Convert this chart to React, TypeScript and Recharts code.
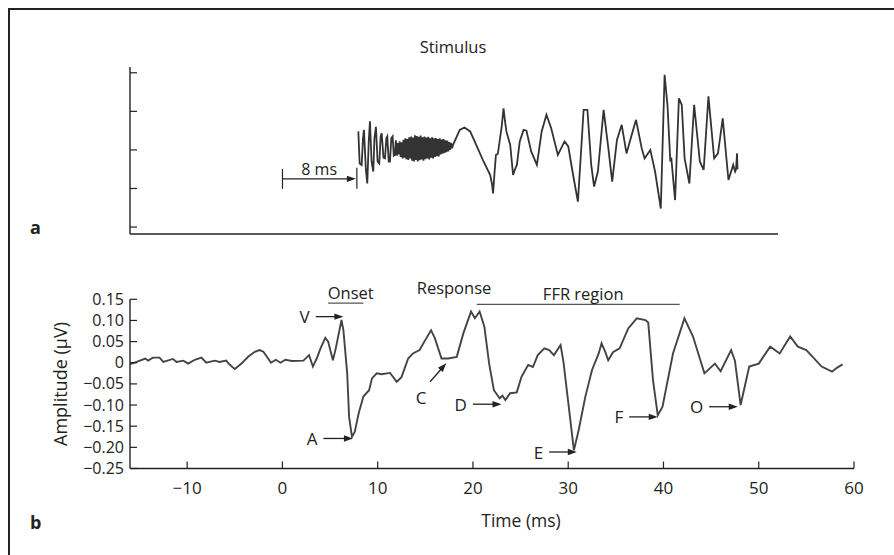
import React from 'react'
import { LineChart, Line, XAxis, YAxis, ReferenceLine } from 'recharts'

// stimulus waveform (arbitrary units), time in ms
const stimTime = [
  7.96, 8.1, 8.31, 8.45, 8.55, 8.75, 8.9, 9.05, 9.18, 9.35, 9.53, 9.65, 9.81, 9.98, 10.16, 10.3, 10.41,
  10.6, 10.76, 10.9, 11.0, 11.15, 11.28, 11.42, 11.56, 11.68, 11.8, 11.9,
  12.0, 12.1, 12.2, 12.3, 12.4, 12.5, 12.6, 12.7, 12.8, 12.9,
  13.0, 13.1, 13.2, 13.3, 13.4, 13.5, 13.6, 13.7, 13.8, 13.9,
  14.0, 14.1, 14.2, 14.3, 14.4, 14.5, 14.6, 14.7, 14.8, 14.9,
  15.0, 15.1, 15.2, 15.3, 15.4, 15.5, 15.6, 15.7, 15.8, 15.9,
  16.0, 16.1, 16.2, 16.3, 16.4, 16.5, 16.6, 16.7, 16.8, 16.9,
  17.0, 17.1, 17.2, 17.3, 17.4, 17.5, 17.6, 17.7, 17.8, 17.9,
  18.3, 18.6, 19.1, 19.7, 20.4, 21.1, 21.8, 22.0, 22.1, 22.25, 22.4, 22.6, 23.0, 23.2, 23.35, 23.5, 23.9,
  24.2, 24.4, 24.6, 24.9, 25.3, 25.6, 26.1, 26.7, 27.2, 27.7, 28.2, 28.9, 29.6, 29.99, 30.5, 31.0, 31.4,
  31.6, 32.0, 32.4, 32.7, 33.1, 33.7, 34.2, 34.6, 35.1, 35.6, 36.1, 36.6, 37.1, 37.7, 38.0, 38.6, 39.1,
  39.7, 39.9, 40.1, 40.4, 40.7, 40.8, 41.2, 41.6, 41.9, 42.2, 42.7, 43.2, 43.8, 44.2, 44.7, 45.3, 45.7,
  46.2, 46.8, 47.3, 47.5, 47.6, 47.7, 47.75,
]
const stimValue = [
  0.48, -0.35, -0.39, 0.3, 0.52, -0.5, -0.87, 0.2, 0.74, -0.3, -0.56, 0.3, 0.6, -0.3, -0.35, 0.35, 0.43,
  -0.2, -0.22, 0.3, 0.35, -0.3, -0.3, 0.3, 0.35, -0.15, -0.13, 0.25,
  -0.15, 0.18, -0.12, 0.22, -0.18, 0.2, -0.22, 0.26, -0.2, 0.3,
  -0.24, 0.28, -0.26, 0.33, -0.22, 0.35, -0.28, 0.32, -0.3, 0.38,
  -0.26, 0.36, -0.3, 0.34, -0.27, 0.37, -0.25, 0.33, -0.28, 0.35,
  -0.24, 0.32, -0.22, 0.34, -0.25, 0.3, -0.2, 0.33, -0.22, 0.3,
  -0.18, 0.31, -0.16, 0.28, -0.17, 0.3, -0.12, 0.27, -0.1, 0.28,
  -0.08, 0.25, -0.06, 0.24, -0.04, 0.2, 0.0, 0.18, 0.04, 0.13,
  0.35, 0.52, 0.58, 0.48, 0.09, -0.3, -0.65, -0.9, -1.13, -0.6, -0.13, -0.1, 0.6, 1.08, 0.75, 0.48, 0.13,
  -0.65, -0.5, -0.39, 0.22, 0.52, 0.5, -0.04, -0.39, 0.48, 0.91, 0.56, -0.13, 0.22, 0.09, -0.65, -1.34, 0.22,
  1.04, 1.04, -0.39, -0.95, -0.56, 1.04, 0.04, -0.82, 0.26, 0.65, -0.09, 0.35, 0.78, 0.04, -0.22, 0.0, -0.56,
  -1.52, 0.22, 1.95, 1.17, -0.3, -0.2, -1.3, 1.34, 1.17, -0.22, -0.87, 1.17, -0.3, -0.52, 1.39, -0.22, -0.09,
  0.82, -0.78, -0.39, -0.56, -0.5, -0.09, -0.5,
]
const stimTicks = [-2, -1, 0, 1, 2]

// response waveform, amplitude in µV
const respTime = [
  -16, -15.3, -14.4, -14.1, -13.6, -12.9, -12.5, -11.5, -11.1, -10.4, -9.9, -9.2, -8.5, -8.0, -7.1, -6.6,
  -5.9, -5.6, -5.0, -4.3, -3.6, -2.9, -2.4, -2.0, -1.5, -1.2, -0.7, -0.2, 0.3, 1.0, 2.2, 2.8, 3.2, 3.6,
  4.0, 4.5, 4.8, 5.3, 5.6, 6.2, 6.4, 6.8, 7.0, 7.3, 7.6, 8.0, 8.5, 9.1, 9.4, 9.9, 10.4, 11.3, 12.0, 12.5,
  13.2, 13.7, 14.4, 14.9, 15.6, 16.0, 16.7, 17.4, 18.3, 19.0, 19.8, 20.2, 20.7, 21.2, 21.7, 22.2, 22.8,
  23.1, 23.4, 23.9, 24.6, 25.1, 25.8, 26.3, 26.8, 27.5, 28.0, 28.5, 29.2, 29.5, 30.1, 30.6, 31.1, 31.8,
  32.5, 33.2, 33.5, 33.9, 34.2, 34.7, 35.4, 36.3, 37.2, 38.1, 38.4, 38.9, 39.4, 39.9, 41.0, 42.2, 43.1,
  44.3, 45.4, 46.0, 47.1, 47.5, 48.1, 49.0, 50.0, 51.2, 52.2, 53.3, 54.1, 55.0, 56.6, 57.7, 58.2, 58.8,
]
const respAmp = [
  -0.003, 0.002, 0.01, 0.005, 0.012, 0.012, 0.002, 0.009, 0.002, 0.005, -0.002, 0.007, 0.012, 0.0, 0.005, 0.002,
  0.005, -0.003, -0.015, -0.002, 0.014, 0.026, 0.03, 0.026, 0.01, 0.0, 0.007, 0.0, 0.007, 0.004, 0.005, 0.018, -0.009, 0.01,
  0.034, 0.059, 0.05, 0.006, 0.034, 0.101, 0.077, -0.025, -0.128, -0.175, -0.163, -0.12, -0.08, -0.065, -0.037, -0.025, -0.027, -0.024, -0.045, -0.034,
  0.01, 0.022, 0.03, 0.05, 0.077, 0.058, 0.01, 0.01, 0.014, 0.07, 0.121, 0.105, 0.121, 0.085, -0.002, -0.065, -0.084,
  -0.078, -0.088, -0.072, -0.07, -0.033, -0.005, -0.01, 0.018, 0.034, 0.03, 0.018, 0.042, 0.002, -0.112, -0.207, -0.159, -0.08,
  -0.017, 0.022, 0.046, 0.025, 0.006, 0.025, 0.034, 0.081, 0.105, 0.101, 0.095, -0.041, -0.124, -0.104, 0.022, 0.105, 0.062,
  -0.025, -0.002, -0.02, 0.03, 0.005, -0.1, -0.009, -0.002, 0.038, 0.022, 0.062, 0.038, 0.03, -0.009, -0.021, -0.012, -0.004,
]
const timeTicks = [-10, 0, 10, 20, 30, 40, 50, 60]
const ampTicks = [-0.25, -0.2, -0.15, -0.1, -0.05, 0, 0.05, 0.1, 0.15]

// peak labels: arrow start and arrow tip as [time, amp]
const peakNames = ['V', 'A', 'C', 'D', 'E', 'F', 'O']
const peakFrom = [[3.5, 0.109], [4.3, -0.179], [15.5, -0.045], [20.0, -0.098], [28.0, -0.211], [36.4, -0.128], [44.8, -0.104]]
const peakTo = [[6.4, 0.109], [7.4, -0.179], [17.2, -0.001], [23.0, -0.098], [30.9, -0.211], [39.4, -0.128], [47.8, -0.104]]

// bracketed regions: [start, end, amp]
const regionNames = ['Onset', 'FFR region']
const regionSpan = [[4.8, 8.5, 0.141], [20.4, 41.7, 0.138]]

const stimData = stimTime.map((t, i) => ({ t, v: stimValue[i] }))
const respData = respTime.map((t, i) => ({ t, a: respAmp[i] }))

const FONT = '"Open Sans", "Noto Sans", sans-serif'
const INK = '#222'
const TRACE = '#444'

const fmt = (v: number) => (v === 0 ? '0' : (v < 0 ? '\u2212' : '') + Math.abs(v).toFixed(2))
const fmtX = (v: number) => (v < 0 ? '\u2212' : '') + Math.abs(v)

const YTick = ({ x, y, payload, showText }: any) => (
  <g>
    <line x1={x} y1={y} x2={x + 7} y2={y} stroke={INK} strokeWidth={1.2} />
    {showText && (
      <text x={x - 6} y={y} dy={5.5} textAnchor="end" fontSize={16} fontFamily={FONT} fill={INK}>
        {fmt(payload.value)}
      </text>
    )}
  </g>
)

const XTick = ({ x, y, payload }: any) => (
  <g>
    <line x1={x} y1={y} x2={x} y2={y - 7} stroke={INK} strokeWidth={1.2} />
    <text x={x} y={y + 25} textAnchor="middle" fontSize={17} fontFamily={FONT} fill={INK}>
      {fmtX(payload.value)}
    </text>
  </g>
)

const arrowHead = (x1: number, y1: number, x2: number, y2: number) => {
  const ang = Math.atan2(y2 - y1, x2 - x1)
  const L = 9
  const W = 3.2
  const bx = x2 - L * Math.cos(ang)
  const by = y2 - L * Math.sin(ang)
  const px = -Math.sin(ang) * W
  const py = Math.cos(ang) * W
  return `${x2},${y2} ${bx + px},${by + py} ${bx - px},${by - py}`
}

const makeArrow = (name: string, diagonal: boolean) => (p: any) => {
  const { x1, y1, x2, y2 } = p
  const ang = Math.atan2(y2 - y1, x2 - x1)
  const ex = x2 - 6 * Math.cos(ang)
  const ey = y2 - 6 * Math.sin(ang)
  return (
    <g>
      <line x1={x1} y1={y1} x2={ex} y2={ey} stroke={INK} strokeWidth={1.3} />
      <polygon points={arrowHead(x1, y1, x2, y2)} fill={INK} />
      <text
        x={diagonal ? x1 - 9 : x1 - 6}
        y={diagonal ? y1 + 22 : y1 + 6.5}
        textAnchor={diagonal ? 'middle' : 'end'}
        fontSize={17}
        fontFamily={FONT}
        fill={INK}
      >
        {name}
      </text>
    </g>
  )
}

const makeBracket = (name: string) => (p: any) => {
  const { x1, y1, x2, y2 } = p
  return (
    <g>
      <line x1={x1} y1={y1} x2={x2} y2={y2} stroke="#555" strokeWidth={1.2} />
      <text x={(x1 + x2) / 2 + 5} y={y1 - 4} textAnchor="middle" fontSize={16.5} fontFamily={FONT} fill={INK}>
        {name}
      </text>
    </g>
  )
}

const delayShape = (p: any) => {
  const { x1, y1, x2, y2 } = p
  return (
    <g>
      <line x1={x1} y1={y1 - 10} x2={x1} y2={y1 + 10} stroke={INK} strokeWidth={1.2} />
      <line x1={x2 + 1} y1={y1 - 11} x2={x2 + 1} y2={y1 + 10} stroke={INK} strokeWidth={1.2} />
      <line x1={x1} y1={y1} x2={x2 - 6} y2={y2} stroke={INK} strokeWidth={1.2} />
      <polygon points={arrowHead(x1, y1, x2, y2)} fill={INK} />
      <text x={(x1 + x2) / 2} y={y1 - 4} textAnchor="middle" fontSize={16} fontFamily={FONT} fill={INK}>
        8 ms
      </text>
    </g>
  )
}

export default function App() {
  return (
    <div style={{ position: 'absolute', left: 0, top: 0, width: 894, height: 555, background: '#fff', overflow: 'hidden' }}>
      <div
        style={{
          position: 'absolute', left: 8, top: 8, right: -4, bottom: -4,
          borderLeft: `2px solid ${INK}`, borderTop: `2px solid ${INK}`,
        }}
      />

      <div style={{ position: 'absolute', left: 0, top: 0 }}>
        <LineChart width={894} height={250} data={stimData} margin={{ top: 67, right: 116, bottom: 15, left: 129 }}>
          <XAxis
            dataKey="t" type="number" domain={[-16, 52]} allowDataOverflow
            height={1} tick={false} tickLine={false} axisLine={{ stroke: INK, strokeWidth: 1.4 }}
          />
          <YAxis
            type="number" domain={[-2.18, 2.15]} ticks={stimTicks} width={1} tickSize={0} tickMargin={0}
            tickLine={false} tick={<YTick showText={false} />} axisLine={{ stroke: INK, strokeWidth: 1.4 }}
            allowDataOverflow interval={0}
          />
          <ReferenceLine segment={[{ x: 0, y: -0.75 }, { x: 7.7, y: -0.75 }]} shape={delayShape} ifOverflow="visible" />
          <Line dataKey="v" type="linear" stroke="#333" strokeWidth={1.8} dot={false} isAnimationActive={false} />
        </LineChart>
      </div>

      <div style={{ position: 'absolute', left: 0, top: 250 }}>
        <LineChart width={894} height={305} data={respData} margin={{ top: 49.3, right: 40, bottom: 85.5, left: 129 }}>
          <XAxis
            dataKey="t" type="number" domain={[-16, 60]} ticks={timeTicks} allowDataOverflow interval={0}
            height={1} tickSize={0} tickMargin={0} tickLine={false} tick={<XTick />}
            axisLine={{ stroke: INK, strokeWidth: 1.4 }}
          />
          <YAxis
            type="number" domain={[-0.25, 0.15]} ticks={ampTicks} width={1} tickSize={0} tickMargin={0}
            tickLine={false} tick={<YTick showText />} axisLine={{ stroke: INK, strokeWidth: 1.4 }}
            allowDataOverflow interval={0}
          />
          {regionNames.map((n, i) => (
            <ReferenceLine
              key={n}
              segment={[{ x: regionSpan[i][0], y: regionSpan[i][2] }, { x: regionSpan[i][1], y: regionSpan[i][2] }]}
              shape={makeBracket(n)}
              ifOverflow="visible"
            />
          ))}
          {peakNames.map((n, i) => (
            <ReferenceLine
              key={n}
              segment={[{ x: peakFrom[i][0], y: peakFrom[i][1] }, { x: peakTo[i][0], y: peakTo[i][1] }]}
              shape={makeArrow(n, n === 'C')}
              ifOverflow="visible"
            />
          ))}
          <Line dataKey="a" type="linear" stroke={TRACE} strokeWidth={1.9} dot={false} isAnimationActive={false} />
        </LineChart>
      </div>

      <svg width={894} height={555} style={{ position: 'absolute', left: 0, top: 0, pointerEvents: 'none' }}>
        <g fontFamily={FONT} fill={INK}>
          <text x={453} y={53} textAnchor="middle" fontSize={16.5}>Stimulus</text>
          <text x={454} y={294} textAnchor="middle" fontSize={16.5}>Response</text>
          <text x={30} y={234} fontSize={18} fontWeight="bold">a</text>
          <text x={30} y={529} fontSize={18} fontWeight="bold">b</text>
          <text x={521} y={527} textAnchor="middle" fontSize={17.5}>Time (ms)</text>
          <text x={0} y={0} transform="translate(67 384) rotate(-90)" textAnchor="middle" fontSize={18}>
            Amplitude (µV)
          </text>
        </g>
      </svg>
    </div>
  )
}
